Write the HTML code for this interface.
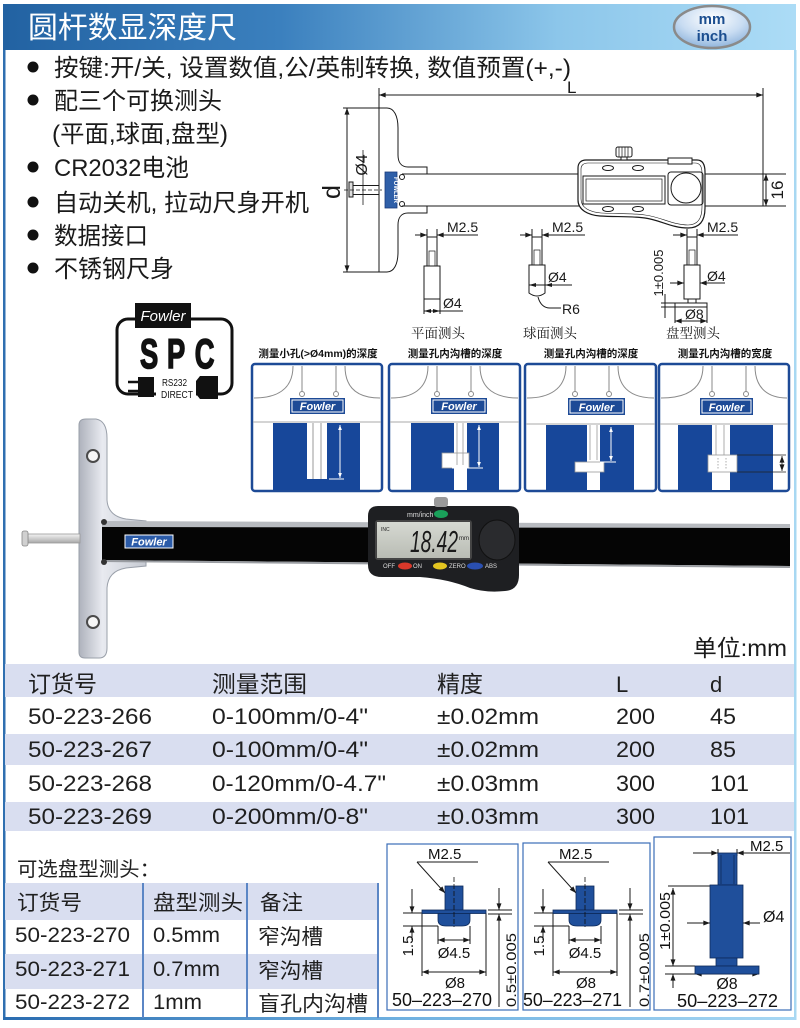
<!DOCTYPE html>
<html><head><meta charset="utf-8">
<style>
html,body{margin:0;padding:0;background:#fff;}
body{width:800px;height:1028px;position:relative;overflow:hidden;}
svg text{font-family:"Liberation Sans","Noto Sans CJK SC",sans-serif;}
.cj{font-family:"Liberation Sans","Noto Sans CJK SC",sans-serif;}
.sf{font-family:"Liberation Serif","Noto Serif CJK SC",serif !important;}
</style></head><body>
<svg width="800" height="1028" viewBox="0 0 800 1028" style="position:absolute;left:0;top:0">
<defs>
 <linearGradient id="hdr" x1="0" x2="1" y1="0" y2="0">
  <stop offset="0" stop-color="#2262a2"/><stop offset="0.35" stop-color="#3b80be"/><stop offset="0.7" stop-color="#8cc6ea"/><stop offset="1" stop-color="#acdcf6"/>
 </linearGradient>
 <linearGradient id="bot" x1="0" x2="1"><stop offset="0" stop-color="#2a6cb0"/><stop offset="0.5" stop-color="#6fb0e0"/><stop offset="1" stop-color="#a8d8f4"/></linearGradient>
 <radialGradient id="badge" cx="0.5" cy="0.3" r="0.7"><stop offset="0" stop-color="#ffffff"/><stop offset="0.6" stop-color="#c8dcf2"/><stop offset="1" stop-color="#8fb4dc"/></radialGradient>
 <linearGradient id="plate" x1="0" x2="1"><stop offset="0" stop-color="#aeb2bc"/><stop offset="0.35" stop-color="#e8eaf0"/><stop offset="1" stop-color="#c6cad2"/></linearGradient>
 <linearGradient id="stem" x1="0" y1="0" x2="0" y2="1"><stop offset="0" stop-color="#f4f4f4"/><stop offset="1" stop-color="#a8a8a8"/></linearGradient>
 <linearGradient id="lcd" x1="0" y1="0" x2="0" y2="1"><stop offset="0" stop-color="#d6d9d2"/><stop offset="1" stop-color="#b9bcb4"/></linearGradient>
 <marker id="ar" viewBox="0 0 8 6" refX="8" refY="3" markerWidth="7" markerHeight="5" markerUnits="userSpaceOnUse" orient="auto-start-reverse"><path d="M0,0 L8,3 L0,6 z" fill="#1a1a1a"/></marker>
 <marker id="aw" viewBox="0 0 8 6" refX="8" refY="3" markerWidth="5" markerHeight="4" markerUnits="userSpaceOnUse" orient="auto-start-reverse"><path d="M0,0 L8,3 L0,6 z" fill="#fff"/></marker>
</defs>

<!-- Frame -->
<rect x="3" y="4" width="793" height="46" fill="url(#hdr)"/>
<rect x="3" y="50" width="2.5" height="970" fill="#2f6fb0"/>
<rect x="794" y="50" width="2.5" height="970" fill="#a8d8f2"/>
<rect x="3" y="1017" width="793" height="3" fill="url(#bot)"/>

<text x="28" y="38" font-size="30" fill="#fff" textLength="209" lengthAdjust="spacingAndGlyphs">圆杆数显深度尺</text>
<ellipse cx="712" cy="27" rx="38" ry="21" fill="url(#badge)" stroke="#8a8a8a" stroke-width="2.5"/>
<text x="712" y="24" font-size="15" font-weight="bold" fill="#1a4d8f" text-anchor="middle">mm</text>
<text x="712" y="41" font-size="15" font-weight="bold" fill="#1a4d8f" text-anchor="middle">inch</text>

<!-- Bullets -->
<g fill="#111">
<circle cx="33" cy="67" r="5.5"/><circle cx="33" cy="100" r="5.5"/><circle cx="33" cy="167" r="5.5"/>
<circle cx="33" cy="202" r="5.5"/><circle cx="33" cy="235" r="5.5"/><circle cx="33" cy="268" r="5.5"/>
</g>
<g font-size="24" fill="#1a1a1a">
<text x="54" y="76" textLength="517" lengthAdjust="spacingAndGlyphs">按键:开/关, 设置数值,公/英制转换, 数值预置(+,-)</text>
<text x="54" y="109" textLength="168" lengthAdjust="spacingAndGlyphs">配三个可换测头</text>
<text x="52" y="142" textLength="176" lengthAdjust="spacingAndGlyphs">(平面,球面,盘型)</text>
<text x="54" y="176" textLength="135" lengthAdjust="spacingAndGlyphs">CR2032电池</text>
<text x="54" y="211" textLength="255" lengthAdjust="spacingAndGlyphs">自动关机, 拉动尺身开机</text>
<text x="54" y="244" textLength="94" lengthAdjust="spacingAndGlyphs">数据接口</text>
<text x="54" y="277" textLength="120" lengthAdjust="spacingAndGlyphs">不锈钢尺身</text>
</g>

<!-- Technical drawing -->
<g fill="none" stroke="#1a1a1a" stroke-width="1">
 <line x1="379" y1="88" x2="379" y2="108"/>
 <line x1="763" y1="88" x2="763" y2="174"/>
 <line x1="379" y1="95" x2="763" y2="95" marker-start="url(#ar)" marker-end="url(#ar)"/>
 <path d="M379,108 L387,108 C394,108 398,116 398,128 L398,155 C398,162 401,167 408,167 L427,167 L427,174"/>
 <path d="M427,206 L427,213 L408,213 C401,213 398,218 398,225 L398,252 C398,264 394,272 387,272 L379,272"/>
 <line x1="379" y1="108" x2="379" y2="272"/>
 <path d="M402,174 L763,174 L763,206 L402,206"/>
 <circle cx="402" cy="177" r="2.5"/><circle cx="402" cy="204" r="2.5"/>
 <line x1="343" y1="108" x2="379" y2="108"/>
 <line x1="343" y1="272" x2="379" y2="272"/>
 <line x1="347" y1="108" x2="347" y2="272" marker-start="url(#ar)" marker-end="url(#ar)"/>
 <rect x="349" y="182" width="4" height="15" fill="#ddd"/>
 <rect x="353" y="185.5" width="26" height="9" fill="#fff"/>
 <line x1="344" y1="190" x2="382" y2="190" stroke-dasharray="4,2" stroke-width="0.7"/>
 <line x1="363" y1="150" x2="363" y2="205" stroke-width="0.8"/>
 <line x1="763" y1="174" x2="786" y2="174"/>
 <line x1="763" y1="206" x2="786" y2="206"/>
 <line x1="766" y1="174" x2="766" y2="206" marker-start="url(#ar)" marker-end="url(#ar)"/>
 <!-- caliper body -->
 <path d="M586,160 L697,160 C703,160 705,165 705,172 L705,208 C705,222 699,228 688,228 C672,228 660,220 645,218 C630,216 615,217 600,216 C588,215 578,210 578,200 L578,168 C578,163 581,160 586,160 Z" fill="#fff" stroke-width="1.2"/>
 <path d="M588,163 L695,163 C700,163 702,167 702,173 L702,207 C702,219 697,225 688,225 C673,225 661,217 645,215 C630,213 615,214 601,213 C590,212 581,208 581,199 L581,169 C581,165 584,163 588,163 Z" stroke-width="0.6"/>
 <rect x="668" y="158" width="24" height="6" fill="#fff"/>
 <rect x="583" y="176" width="82" height="28"/>
 <rect x="586" y="179" width="76" height="22" stroke-width="0.7"/>
 <rect x="668" y="172" width="35" height="33" rx="3"/>
 <circle cx="686" cy="188" r="15"/>
 <ellipse cx="608" cy="168" rx="5.5" ry="2.5"/><ellipse cx="638" cy="168" rx="5.5" ry="2.5"/>
 <ellipse cx="608" cy="209" rx="5.5" ry="2.5"/><ellipse cx="638" cy="209" rx="5.5" ry="2.5"/>
 <rect x="616" y="147" width="16" height="10" rx="2" fill="#fff"/>
 <path d="M619,147 V157 M622,147 V157 M625,147 V157 M628,147 V157" stroke-width="0.7"/>
 <rect x="621" y="157" width="6" height="3" fill="#fff"/>

 <!-- flat probe -->
 <line x1="427" y1="229" x2="427" y2="237"/><line x1="437" y1="229" x2="437" y2="237"/>
 <line x1="415" y1="235" x2="427" y2="235" marker-end="url(#ar)"/>
 <line x1="478" y1="235" x2="437" y2="235" marker-end="url(#ar)"/>
 <rect x="427" y="237" width="10" height="29"/>
 <rect x="429" y="251" width="6" height="15" stroke-width="0.7"/>
 <rect x="424" y="266" width="16" height="33" fill="#fff"/>
 <line x1="424" y1="299" x2="424" y2="314"/><line x1="440" y1="299" x2="440" y2="314"/>
 <line x1="424" y1="311" x2="463" y2="311"/>
 <path d="M424,311 L431,309 L431,313 Z M440,311 L433,309 L433,313 Z" fill="#1a1a1a" stroke="none"/>

 <!-- ball probe -->
 <line x1="532" y1="229" x2="532" y2="237"/><line x1="542" y1="229" x2="542" y2="237"/>
 <line x1="520" y1="235" x2="532" y2="235" marker-end="url(#ar)"/>
 <line x1="585" y1="235" x2="542" y2="235" marker-end="url(#ar)"/>
 <rect x="532" y="237" width="10" height="28"/>
 <rect x="534" y="250" width="6" height="15" stroke-width="0.7"/>
 <path d="M529,265 L545,265 L545,293 Q537,299 529,293 Z" fill="#fff"/>
 <line x1="529" y1="285" x2="572" y2="285"/>
 <path d="M529,285 L536,283 L536,287 Z M545,285 L552,283 L552,287 Z" fill="#1a1a1a" stroke="none"/>
 <path d="M538,297 Q541,308 550,308 L561,308"/>

 <!-- disc probe -->
 <line x1="687" y1="229" x2="687" y2="237"/><line x1="697" y1="229" x2="697" y2="237"/>
 <line x1="673" y1="235" x2="687" y2="235" marker-end="url(#ar)"/>
 <line x1="738" y1="235" x2="697" y2="235" marker-end="url(#ar)"/>
 <rect x="687" y="237" width="10" height="28"/>
 <rect x="689" y="250" width="6" height="15" stroke-width="0.7"/>
 <rect x="684" y="265" width="16" height="34" fill="#fff"/>
 <rect x="688" y="299" width="8" height="4"/>
 <rect x="675" y="303" width="32" height="4" fill="#fff"/>
 <line x1="670" y1="283" x2="684" y2="283" marker-end="url(#ar)"/>
 <line x1="725" y1="283" x2="700" y2="283" marker-end="url(#ar)"/>
 <line x1="675" y1="307" x2="675" y2="323"/><line x1="707" y1="307" x2="707" y2="323"/>
 <line x1="675" y1="321" x2="707" y2="321" marker-start="url(#ar)" marker-end="url(#ar)"/>
 <line x1="665" y1="294" x2="665" y2="318"/>
 <line x1="661" y1="303" x2="675" y2="303"/><line x1="661" y1="307" x2="675" y2="307"/>
</g>
<rect x="385" y="172" width="12" height="36" fill="#2f5fa8" stroke="#1a3a7a" stroke-width="0.8"/>
<text transform="translate(394,190) rotate(90)" font-size="6" fill="#fff" text-anchor="middle" font-weight="bold">FOWLER</text>
<g fill="#1a1a1a">
 <text transform="translate(340,192) rotate(-90)" font-size="25" text-anchor="middle">d</text>
 <text transform="translate(367,165) rotate(-90)" font-size="16" text-anchor="middle">Ø4</text>
 <text x="567" y="93" font-size="17">L</text>
 <text transform="translate(783,190) rotate(-90)" font-size="17" text-anchor="middle">16</text>
 <text x="447" y="232" font-size="14">M2.5</text>
 <text x="443" y="308" font-size="14">Ø4</text>
 <text x="552" y="232" font-size="14">M2.5</text>
 <text x="548" y="282" font-size="14">Ø4</text>
 <text x="562" y="314" font-size="14">R6</text>
 <text x="707" y="232" font-size="14">M2.5</text>
 <text x="707" y="281" font-size="14">Ø4</text>
 <text x="685" y="319" font-size="14">Ø8</text>
 <text transform="translate(663,273) rotate(-90)" font-size="13" text-anchor="middle">1±0.005</text>
 <text class="sf" x="438" y="338" font-size="13.5" text-anchor="middle">平面测头</text>
 <text class="sf" x="550" y="338" font-size="13.5" text-anchor="middle">球面测头</text>
 <text class="sf" x="693" y="338" font-size="13.5" text-anchor="middle">盘型测头</text>
</g>

<!-- SPC logo -->
<g>
 <rect x="117" y="319" width="115" height="75" rx="11" fill="none" stroke="#111" stroke-width="3"/>
 <rect x="156" y="378" width="40" height="22" fill="#fff"/>
 <rect x="135" y="303" width="56" height="25" fill="#111"/>
 <text x="163" y="321" font-size="15" font-style="italic" fill="#fff" text-anchor="middle">Fowler</text>
 <text x="140" y="368" font-size="42" font-weight="bold" fill="#111" stroke="#111" stroke-width="1.6" transform="translate(49,0) scale(0.65,1)">S</text>
 <text x="167" y="368" font-size="42" font-weight="bold" fill="#111" stroke="#111" stroke-width="1.6" transform="translate(58.5,0) scale(0.65,1)">P</text>
 <text x="195" y="368" font-size="42" font-weight="bold" fill="#111" stroke="#111" stroke-width="1.6" transform="translate(68,0) scale(0.65,1)">C</text>
 <rect x="138" y="377" width="16" height="20" fill="#111"/>
 <path d="M128,382 H138 M128,391 H138" stroke="#111" stroke-width="2.5"/>
 <path d="M200,376 L218,376 L218,399 L200,399 L196,394 L196,381 Z" fill="#111"/>
 <text x="162" y="386" font-size="10.5" fill="#111" textLength="25" lengthAdjust="spacingAndGlyphs">RS232</text>
 <text x="161" y="398" font-size="10.5" fill="#111" textLength="32" lengthAdjust="spacingAndGlyphs">DIRECT</text>
</g>

<!-- Panels -->
<g font-size="10.5" font-weight="bold" fill="#111" text-anchor="middle">
 <text x="318" y="357">测量小孔(&gt;Ø4mm)的深度</text>
 <text x="455" y="357">测量孔内沟槽的深度</text>
 <text x="591" y="357">测量孔内沟槽的深度</text>
 <text x="725" y="357">测量孔内沟槽的宽度</text>
</g>
<!-- panel 1 -->
<g>
 <rect x="252" y="364" width="130" height="127" rx="3" fill="#fff" stroke="#1d4a96" stroke-width="2.5"/>
 <path d="M302,366 V392 M336,366 V392 M293,366 C293,390 276,398 254,398 M345,366 C345,390 360,398 380,398" fill="none" stroke="#8a8a8a"/>
 <circle cx="302" cy="394" r="2.5" fill="#fff" stroke="#8a8a8a"/><circle cx="336" cy="394" r="2.5" fill="#fff" stroke="#8a8a8a"/>
 <rect x="290" y="398" width="55" height="16" fill="#1d4a96"/><rect x="292" y="400" width="51" height="12" fill="none" stroke="#fff"/>
 <text x="317.5" y="410" font-size="11" font-weight="bold" font-style="italic" fill="#fff" text-anchor="middle">Fowler</text>
 <line x1="253" y1="422" x2="381" y2="422" stroke="#aaa"/>
 <rect x="273" y="423" width="87" height="67" fill="#17479a"/>
 <rect x="307" y="423" width="20" height="56" fill="#fff"/>
 <path d="M313,423 V479 M321,423 V479" stroke="#999"/>
 <line x1="340" y1="425" x2="340" y2="478" stroke="#fff" marker-start="url(#aw)" marker-end="url(#aw)"/>
 <line x1="329" y1="479" x2="344" y2="479" stroke="#fff"/>
</g>
<!-- panel 2 -->
<g>
 <rect x="389" y="364" width="131" height="127" rx="3" fill="#fff" stroke="#1d4a96" stroke-width="2.5"/>
 <path d="M437,366 V392 M471,366 V392 M428,366 C428,390 411,398 391,398 M480,366 C480,390 497,398 518,398" fill="none" stroke="#8a8a8a"/>
 <circle cx="437" cy="394" r="2.5" fill="#fff" stroke="#8a8a8a"/><circle cx="471" cy="394" r="2.5" fill="#fff" stroke="#8a8a8a"/>
 <rect x="431" y="398" width="56" height="16" fill="#1d4a96"/><rect x="433" y="400" width="52" height="12" fill="none" stroke="#fff"/>
 <text x="459" y="410" font-size="11" font-weight="bold" font-style="italic" fill="#fff" text-anchor="middle">Fowler</text>
 <line x1="390" y1="422" x2="519" y2="422" stroke="#aaa"/>
 <rect x="411" y="423" width="88" height="67" fill="#17479a"/>
 <rect x="454" y="423" width="13" height="67" fill="#fff"/>
 <rect x="442" y="453" width="27" height="15" fill="#fff" stroke="#999" stroke-width="0.8"/>
 <path d="M457,423 V465 M463,423 V465" stroke="#999" stroke-width="0.8"/>
 <line x1="479" y1="425" x2="479" y2="467" stroke="#fff" marker-start="url(#aw)" marker-end="url(#aw)"/>
 <line x1="452" y1="468" x2="483" y2="468" stroke="#fff"/>
</g>
<!-- panel 3 -->
<g>
 <rect x="525" y="364" width="131" height="127" rx="3" fill="#fff" stroke="#1d4a96" stroke-width="2.5"/>
 <path d="M575,366 V392 M609,366 V392 M566,366 C566,390 548,398 527,398 M618,366 C618,390 634,398 654,398" fill="none" stroke="#8a8a8a"/>
 <circle cx="575" cy="394" r="2.5" fill="#fff" stroke="#8a8a8a"/><circle cx="609" cy="394" r="2.5" fill="#fff" stroke="#8a8a8a"/>
 <rect x="568" y="398" width="57" height="17" fill="#1d4a96"/><rect x="570" y="400" width="53" height="13" fill="none" stroke="#fff"/>
 <text x="596.5" y="411" font-size="11" font-weight="bold" font-style="italic" fill="#fff" text-anchor="middle">Fowler</text>
 <line x1="526" y1="424" x2="655" y2="424" stroke="#aaa"/>
 <rect x="546" y="425" width="88" height="65" fill="#17479a"/>
 <rect x="587" y="425" width="13" height="65" fill="#fff"/>
 <rect x="575" y="462" width="29" height="10" fill="#fff" stroke="#999" stroke-width="0.8"/>
 <path d="M590,425 V460 M597,425 V460" stroke="#999" stroke-width="0.8"/>
 <line x1="611" y1="427" x2="611" y2="461" stroke="#fff" marker-start="url(#aw)" marker-end="url(#aw)"/>
 <line x1="600" y1="462" x2="616" y2="462" stroke="#fff"/>
</g>
<!-- panel 4 -->
<g>
 <rect x="659" y="364" width="130" height="127" rx="3" fill="#fff" stroke="#1d4a96" stroke-width="2.5"/>
 <path d="M712,366 V392 M746,366 V392 M703,366 C703,390 685,398 661,398 M755,366 C755,390 770,398 787,398" fill="none" stroke="#8a8a8a"/>
 <circle cx="712" cy="394" r="2.5" fill="#fff" stroke="#8a8a8a"/><circle cx="746" cy="394" r="2.5" fill="#fff" stroke="#8a8a8a"/>
 <rect x="700" y="398" width="53" height="17" fill="#1d4a96"/><rect x="702" y="400" width="49" height="13" fill="none" stroke="#fff"/>
 <text x="726.5" y="411" font-size="11" font-weight="bold" font-style="italic" fill="#fff" text-anchor="middle">Fowler</text>
 <line x1="660" y1="424" x2="788" y2="424" stroke="#aaa"/>
 <rect x="678" y="425" width="95" height="65" fill="#17479a"/>
 <rect x="712" y="425" width="18" height="65" fill="#fff"/>
 <rect x="708" y="455" width="29" height="17" fill="#fff" stroke="#999" stroke-width="0.8"/>
 <path d="M716,425 V455 M724,425 V455" stroke="#999" stroke-width="0.8"/>
 <path d="M718,458 V470 M726,458 V470" stroke="#999" stroke-width="0.8" stroke-dasharray="1.5,1.5"/>
 <line x1="737" y1="455" x2="786" y2="455" stroke="#222" stroke-width="0.8"/>
 <line x1="737" y1="472" x2="786" y2="472" stroke="#222" stroke-width="0.8"/>
 <line x1="782" y1="456" x2="782" y2="471" stroke="#222" stroke-width="0.8" marker-start="url(#ar)" marker-end="url(#ar)"/>
</g>

<!-- Caliper photo -->
<path d="M79,425 Q79,419 86,419 L96,419 Q107,421 107,438 L107,500 Q108,516 126,519 L146,521 L146,566 L126,568 Q108,571 107,588 L107,648 Q107,658 99,658 L85,658 Q79,658 79,652 Z" fill="url(#plate)" stroke="#9aa0aa" stroke-width="1"/>
<circle cx="93" cy="456" r="6" fill="#f6f6f6" stroke="#4a4a4a" stroke-width="2"/>
<circle cx="93" cy="622" r="6" fill="#f6f6f6" stroke="#4a4a4a" stroke-width="2"/>
<rect x="28" y="534" width="52" height="9" fill="url(#stem)" stroke="#999" stroke-width="0.8"/>
<rect x="22" y="531" width="6" height="15" rx="2" fill="#d0d0d0" stroke="#888" stroke-width="0.8"/>
<polygon points="102,521 790,524 790,529 102,527" fill="#b8bbc0"/>
<polygon points="102,527 790,528 790,566 102,560" fill="#050505"/>
<polygon points="102,560 790,566 790,568 102,562" fill="#9a9da2"/>
<circle cx="104" cy="522" r="3" fill="#333"/><circle cx="104" cy="562" r="3" fill="#333"/>
<rect x="125" y="535" width="48" height="13" fill="#2b5ba8" stroke="#fff" stroke-width="1"/>
<text x="149" y="545.5" font-size="11" font-weight="bold" font-style="italic" fill="#fff" text-anchor="middle">Fowler</text>
<!-- head -->
<path d="M378,506 L509,506 Q519,506 519,516 L519,575 Q519,590 505,591 Q486,593 470,588 Q448,579 420,577 L382,577 Q368,577 368,565 L368,516 Q368,506 378,506 Z" fill="#1e1f22"/>
<rect x="434" y="497" width="14" height="10" rx="3" fill="#9a9a9a"/>
<text x="407" y="517" font-size="7" fill="#ddd">mm/inch</text>
<ellipse cx="441" cy="514" rx="7" ry="4" fill="#1aa05a"/>
<rect x="375" y="520" width="97" height="40" rx="3" fill="#444"/>
<rect x="377" y="522" width="93" height="36" fill="url(#lcd)"/>
<text x="381" y="531" font-size="5" fill="#222">INC</text>
<text x="410" y="552" font-size="31" font-style="italic" fill="#1a1a1a" textLength="48" lengthAdjust="spacingAndGlyphs">18.42</text>
<text x="459" y="540" font-size="6" fill="#222">mm</text>
<ellipse cx="497" cy="540" rx="18" ry="20" fill="#2a2b2e" stroke="#111"/>
<g font-size="6" fill="#ddd">
 <text x="383" y="568">OFF</text><text x="413" y="568">ON</text><text x="449" y="568">ZERO</text><text x="485" y="568">ABS</text>
</g>
<ellipse cx="405" cy="566" rx="7" ry="3.5" fill="#d8382a"/>
<ellipse cx="440" cy="566" rx="7" ry="3.5" fill="#e2c420"/>
<ellipse cx="475" cy="566" rx="8" ry="3.5" fill="#2a4fb0"/>

<text x="693" y="656" font-size="23" fill="#1a1a1a" textLength="94" lengthAdjust="spacingAndGlyphs">单位:mm</text>

<!-- Main table -->
<rect x="5" y="664" width="789" height="33" fill="#d9def0"/>
<rect x="5" y="734" width="789" height="31" fill="#d9def0"/>
<rect x="5" y="802" width="789" height="29" fill="#d9def0"/>
<g font-size="23" fill="#1f1f1f">
 <text x="28" y="692" textLength="69" lengthAdjust="spacingAndGlyphs">订货号</text>
 <text x="212" y="692" textLength="95" lengthAdjust="spacingAndGlyphs">测量范围</text>
 <text x="437" y="692" textLength="46" lengthAdjust="spacingAndGlyphs">精度</text>
 <text x="616" y="692" font-size="22">L</text>
 <text x="710" y="692" font-size="22">d</text>
</g>
<g font-size="22" fill="#1f1f1f">
 <text x="28" y="724" textLength="124" lengthAdjust="spacingAndGlyphs">50-223-266</text>
 <text x="212" y="724" textLength="156" lengthAdjust="spacingAndGlyphs">0-100mm/0-4"</text>
 <text x="437" y="724" textLength="102" lengthAdjust="spacingAndGlyphs">±0.02mm</text>
 <text x="616" y="724" textLength="39" lengthAdjust="spacingAndGlyphs">200</text>
 <text x="710" y="724" textLength="26" lengthAdjust="spacingAndGlyphs">45</text>

 <text x="28" y="757" textLength="124" lengthAdjust="spacingAndGlyphs">50-223-267</text>
 <text x="212" y="757" textLength="156" lengthAdjust="spacingAndGlyphs">0-100mm/0-4"</text>
 <text x="437" y="757" textLength="102" lengthAdjust="spacingAndGlyphs">±0.02mm</text>
 <text x="616" y="757" textLength="39" lengthAdjust="spacingAndGlyphs">200</text>
 <text x="710" y="757" textLength="26" lengthAdjust="spacingAndGlyphs">85</text>

 <text x="28" y="791" textLength="124" lengthAdjust="spacingAndGlyphs">50-223-268</text>
 <text x="212" y="791" textLength="174" lengthAdjust="spacingAndGlyphs">0-120mm/0-4.7"</text>
 <text x="437" y="791" textLength="102" lengthAdjust="spacingAndGlyphs">±0.03mm</text>
 <text x="616" y="791" textLength="39" lengthAdjust="spacingAndGlyphs">300</text>
 <text x="710" y="791" textLength="39" lengthAdjust="spacingAndGlyphs">101</text>

 <text x="28" y="824" textLength="124" lengthAdjust="spacingAndGlyphs">50-223-269</text>
 <text x="212" y="824" textLength="156" lengthAdjust="spacingAndGlyphs">0-200mm/0-8"</text>
 <text x="437" y="824" textLength="102" lengthAdjust="spacingAndGlyphs">±0.03mm</text>
 <text x="616" y="824" textLength="39" lengthAdjust="spacingAndGlyphs">300</text>
 <text x="710" y="824" textLength="39" lengthAdjust="spacingAndGlyphs">101</text>
</g>

<!-- Bottom-left table -->
<text x="17" y="876" font-size="20" fill="#1f1f1f" textLength="143" lengthAdjust="spacingAndGlyphs">可选盘型测头：</text>
<rect x="5" y="883" width="373" height="37" fill="#d9def0"/>
<rect x="5" y="954" width="373" height="35" fill="#d9def0"/>
<g fill="#5b86c5">
 <rect x="142" y="883" width="2" height="135"/>
 <rect x="246" y="883" width="2" height="135"/>
 <rect x="377" y="883" width="2" height="135"/>
</g>
<g font-size="21" fill="#1f1f1f">
 <text x="17" y="910" textLength="65" lengthAdjust="spacingAndGlyphs">订货号</text>
 <text x="153" y="910" textLength="90" lengthAdjust="spacingAndGlyphs">盘型测头</text>
 <text x="260" y="910" textLength="43" lengthAdjust="spacingAndGlyphs">备注</text>
 <text x="15" y="942" textLength="115" lengthAdjust="spacingAndGlyphs">50-223-270</text>
 <text x="153" y="942" textLength="67" lengthAdjust="spacingAndGlyphs">0.5mm</text>
 <text x="258" y="944" textLength="65" lengthAdjust="spacingAndGlyphs">窄沟槽</text>
 <text x="15" y="976" textLength="115" lengthAdjust="spacingAndGlyphs">50-223-271</text>
 <text x="153" y="976" textLength="67" lengthAdjust="spacingAndGlyphs">0.7mm</text>
 <text x="258" y="978" textLength="65" lengthAdjust="spacingAndGlyphs">窄沟槽</text>
 <text x="15" y="1009" textLength="115" lengthAdjust="spacingAndGlyphs">50-223-272</text>
 <text x="153" y="1009" textLength="49" lengthAdjust="spacingAndGlyphs">1mm</text>
 <text x="258" y="1011" textLength="110" lengthAdjust="spacingAndGlyphs">盲孔内沟槽</text>
</g>

<!-- Bottom-right boxes -->
<rect x="387" y="844" width="131" height="166" fill="#fff" stroke="#3b6db8" stroke-width="1.2"/>
<rect x="523" y="843" width="127" height="167" fill="#fff" stroke="#3b6db8" stroke-width="1.2"/>
<rect x="654" y="837" width="137" height="173" fill="#fff" stroke="#3b6db8" stroke-width="1.2"/>

<g id="b1">
 <g fill="none" stroke="#1a1a1a" stroke-width="1">
  <line x1="417" y1="862" x2="478" y2="862"/>
  <line x1="417" y1="862" x2="445" y2="893" marker-end="url(#ar)"/>
  <line x1="403" y1="913" x2="438" y2="913"/><line x1="403" y1="926" x2="438" y2="926"/>
  <line x1="412" y1="889" x2="412" y2="913" marker-end="url(#ar)"/>
  <line x1="412" y1="940" x2="412" y2="926" marker-end="url(#ar)"/>
  <line x1="438" y1="926" x2="438" y2="944"/><line x1="470" y1="926" x2="470" y2="944"/>
  <line x1="438" y1="940" x2="470" y2="940" marker-start="url(#ar)" marker-end="url(#ar)"/>
  <line x1="422" y1="913" x2="422" y2="976"/><line x1="486" y1="913" x2="486" y2="976"/>
  <line x1="422" y1="972" x2="486" y2="972" marker-start="url(#ar)" marker-end="url(#ar)"/>
  <line x1="488" y1="910" x2="512" y2="910"/><line x1="488" y1="914" x2="512" y2="914"/>
  <line x1="499" y1="888" x2="499" y2="910" marker-end="url(#ar)"/>
  <line x1="499" y1="1007" x2="499" y2="914" marker-end="url(#ar)"/>
 </g>
 <rect x="445" y="886" width="18" height="24" fill="#1f4f9b" stroke="#0d2a5a" stroke-width="0.8"/>
 <rect x="422" y="910" width="64" height="3.5" fill="#1f4f9b" stroke="#0d2a5a" stroke-width="0.8"/>
 <path d="M438,913.5 L470,913.5 L470,920 Q470,926 462,926 L446,926 Q438,926 438,920 Z" fill="#1f4f9b" stroke="#0d2a5a" stroke-width="0.8"/>
 <line x1="454" y1="877" x2="454" y2="927" stroke="#111" stroke-width="0.8" stroke-dasharray="5,2"/>
 <g fill="#111">
  <text x="428" y="859" font-size="15">M2.5</text>
  <text transform="translate(413,946) rotate(-90)" font-size="15" text-anchor="middle">1.5</text>
  <text x="454" y="958" font-size="15" text-anchor="middle">Ø4.5</text>
  <text x="455" y="988" font-size="15" text-anchor="middle">Ø8</text>
  <text transform="translate(516,970) rotate(-90)" font-size="14" text-anchor="middle" textLength="74" lengthAdjust="spacingAndGlyphs">0.5±0.005</text>
  <text x="392" y="1006" font-size="18" textLength="100" lengthAdjust="spacingAndGlyphs">50–223–270</text>
 </g>
</g>
<g transform="translate(131,0)">
 <g fill="none" stroke="#1a1a1a" stroke-width="1">
  <line x1="417" y1="862" x2="478" y2="862"/>
  <line x1="417" y1="862" x2="445" y2="893" marker-end="url(#ar)"/>
  <line x1="403" y1="913" x2="438" y2="913"/><line x1="403" y1="926" x2="438" y2="926"/>
  <line x1="412" y1="889" x2="412" y2="913" marker-end="url(#ar)"/>
  <line x1="412" y1="940" x2="412" y2="926" marker-end="url(#ar)"/>
  <line x1="438" y1="926" x2="438" y2="944"/><line x1="470" y1="926" x2="470" y2="944"/>
  <line x1="438" y1="940" x2="470" y2="940" marker-start="url(#ar)" marker-end="url(#ar)"/>
  <line x1="422" y1="913" x2="422" y2="976"/><line x1="486" y1="913" x2="486" y2="976"/>
  <line x1="422" y1="972" x2="486" y2="972" marker-start="url(#ar)" marker-end="url(#ar)"/>
  <line x1="488" y1="910" x2="512" y2="910"/><line x1="488" y1="914" x2="512" y2="914"/>
  <line x1="499" y1="888" x2="499" y2="910" marker-end="url(#ar)"/>
  <line x1="499" y1="1007" x2="499" y2="914" marker-end="url(#ar)"/>
 </g>
 <rect x="445" y="886" width="18" height="24" fill="#1f4f9b" stroke="#0d2a5a" stroke-width="0.8"/>
 <rect x="422" y="910" width="64" height="3.5" fill="#1f4f9b" stroke="#0d2a5a" stroke-width="0.8"/>
 <path d="M438,913.5 L470,913.5 L470,920 Q470,926 462,926 L446,926 Q438,926 438,920 Z" fill="#1f4f9b" stroke="#0d2a5a" stroke-width="0.8"/>
 <line x1="454" y1="877" x2="454" y2="927" stroke="#111" stroke-width="0.8" stroke-dasharray="5,2"/>
 <g fill="#111">
  <text x="428" y="859" font-size="15">M2.5</text>
  <text transform="translate(413,946) rotate(-90)" font-size="15" text-anchor="middle">1.5</text>
  <text x="454" y="958" font-size="15" text-anchor="middle">Ø4.5</text>
  <text x="455" y="988" font-size="15" text-anchor="middle">Ø8</text>
  <text transform="translate(518,970) rotate(-90)" font-size="14" text-anchor="middle" textLength="74" lengthAdjust="spacingAndGlyphs">0.7±0.005</text>
  <text x="392" y="1006" font-size="18" textLength="99" lengthAdjust="spacingAndGlyphs">50–223–271</text>
 </g>
</g>
<!-- box 3 -->
<g fill="none" stroke="#1a1a1a" stroke-width="1">
 <line x1="718" y1="849" x2="718" y2="856"/><line x1="737" y1="849" x2="737" y2="856"/>
 <line x1="693" y1="853" x2="718" y2="853" marker-end="url(#ar)"/>
 <line x1="790" y1="853" x2="737" y2="853" marker-end="url(#ar)"/>
 <line x1="687" y1="923" x2="710" y2="923" marker-end="url(#ar)"/>
 <line x1="760" y1="923" x2="743" y2="923" marker-end="url(#ar)"/>
 <line x1="668" y1="886" x2="710" y2="886"/>
 <line x1="665" y1="966" x2="695" y2="966"/><line x1="665" y1="974" x2="695" y2="974"/>
 <line x1="673" y1="888" x2="673" y2="966" marker-start="url(#ar)" marker-end="url(#ar)"/>
 <line x1="673" y1="988" x2="673" y2="974" marker-end="url(#ar)"/>
 <line x1="695" y1="974" x2="759" y2="974" marker-start="url(#ar)" marker-end="url(#ar)"/>
</g>
<g fill="#1f4f9b" stroke="#0d2a5a" stroke-width="0.8">
 <rect x="718" y="853" width="19" height="32"/>
 <rect x="710" y="885" width="33" height="73"/>
 <rect x="716" y="958" width="21" height="8"/>
 <rect x="695" y="966" width="64" height="8"/>
</g>
<path d="M721,855 V884 M734,855 V884" stroke="#0d2a5a" stroke-width="0.8"/>
<g fill="#111">
 <text x="750" y="851" font-size="15">M2.5</text>
 <text x="763" y="922" font-size="16">Ø4</text>
 <text transform="translate(670,921) rotate(-90)" font-size="15" text-anchor="middle" textLength="58" lengthAdjust="spacingAndGlyphs">1±0.005</text>
 <text x="727" y="989" font-size="16" text-anchor="middle">Ø8</text>
 <text x="677" y="1007" font-size="18" textLength="101" lengthAdjust="spacingAndGlyphs">50–223–272</text>
</g>
</svg>
</body></html>
